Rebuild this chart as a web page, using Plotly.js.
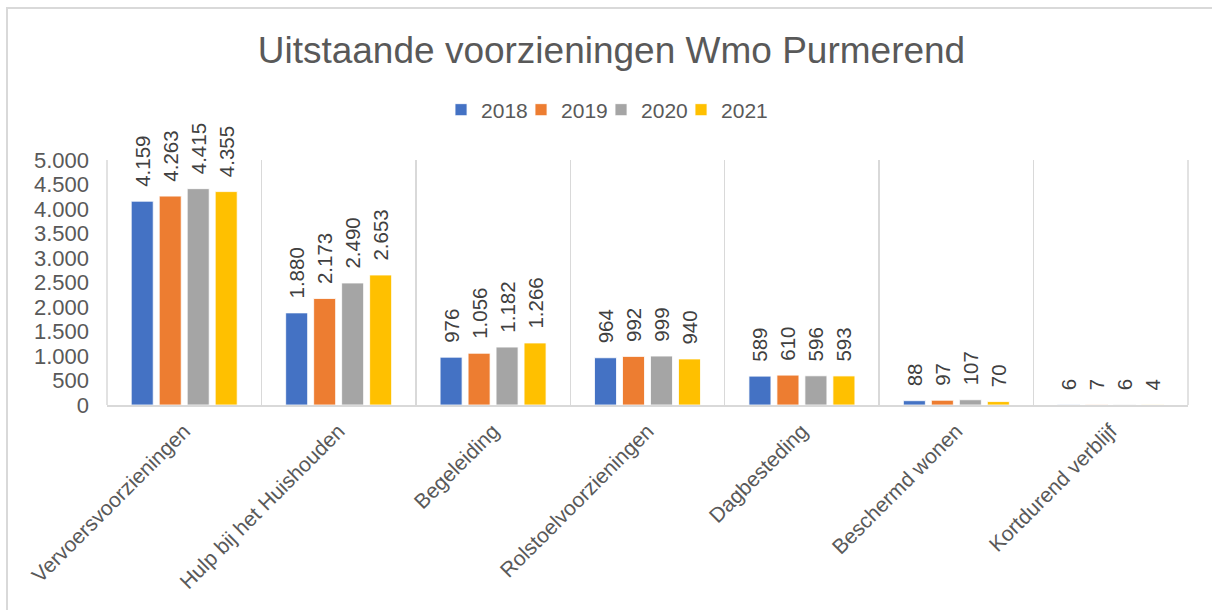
<!DOCTYPE html>
<html>
<head>
<meta charset="utf-8">
<script src="https://cdn.plot.ly/plotly-3.0.1.min.js"></script>
<style>
html,body{margin:0;padding:0;background:#fff;}
#chart{width:1212px;height:610px;position:absolute;left:0;top:0;}
#frame{position:absolute;left:6px;top:7px;width:1300px;height:700px;border-left:2px solid #D9D9D9;border-top:2px solid #D9D9D9;pointer-events:none;}
</style>
</head>
<body>
<div id="chart"></div>
<div id="frame"></div>
<script>
const categories = ["Vervoersvoorzieningen","Hulp bij het Huishouden","Begeleiding","Rolstoelvoorzieningen","Dagbesteding","Beschermd wonen","Kortdurend verblijf"];
const seriesNames = ["2018","2019","2020","2021"];
const v2018 = [4159,1880,976,964,589,88,6];
const v2019 = [4263,2173,1056,992,610,97,7];
const v2020 = [4415,2490,1182,999,596,107,6];
const v2021 = [4355,2653,1266,940,593,70,4];
const colors = ["#4472C4","#ED7D31","#A5A5A5","#FFC000"];
const yTickVals = [0,500,1000,1500,2000,2500,3000,3500,4000,4500,5000];

function fmt(n){return String(n).replace(/\B(?=(\d{3})+(?!\d))/g,".");}
const FONT = "Liberation Sans, Arial, sans-serif";
const TXT = "#595959";
const PAD = "\u00A0\u00A0";

const allVals = [v2018,v2019,v2020,v2021];
const traces = allVals.map((vals,i)=>({
  type:"bar",
  name:seriesNames[i],
  x:categories,
  y:vals,
  marker:{color:colors[i],line:{color:"#ffffff",width:0.8}},
  text:vals.map(v=>PAD+fmt(v)),
  textposition:"outside",
  textangle:-90,
  constraintext:"none",
  cliponaxis:false,
  textfont:{family:FONT,size:20.5,color:"#404040"},
  legendwidth:(i===allVals.length-1)?55:35,
  hoverinfo:"x+y"
}));

const layout = {
  width:1212,height:610,
  paper_bgcolor:"#ffffff",plot_bgcolor:"#ffffff",
  margin:{l:107,r:24,t:160,b:205,pad:0},
  separators:",.",
  title:{text:"Uitstaande voorzieningen Wmo Purmerend",font:{family:FONT,size:37,color:TXT},x:0.5045,xanchor:"center",y:0.918,yanchor:"middle"},
  showlegend:true,
  legend:{orientation:"h",x:0.309,xanchor:"left",y:1.204,yanchor:"middle",font:{family:FONT,size:21,color:TXT},itemwidth:30,entrywidthmode:"pixels",traceorder:"normal"},
  barmode:"group",
  bargap:0.275,
  bargroupgap:0.214,
  xaxis:{
    type:"category",
    tickson:"boundaries",
    showgrid:true,gridcolor:"#D9D9D9",gridwidth:1.5,
    showline:true,linecolor:"#D9D9D9",linewidth:1.5,mirror:false,
    ticks:"",tickangle:-45,
    ticklabelstandoff:4,
    tickfont:{family:FONT,size:21,color:TXT},
    automargin:false
  },
  yaxis:{
    range:[0,5000],
    tickvals:yTickVals,
    ticktext:yTickVals.map(fmt),
    showgrid:false,zeroline:false,showline:false,
    ticks:"",ticklen:0,
    ticklabelstandoff:17,
    tickfont:{family:FONT,size:22,color:TXT},
    automargin:false
  },
  shapes:[
    {type:"line",xref:"paper",yref:"paper",x0:1,x1:1,y0:0,y1:1,line:{color:"#D9D9D9",width:1.5}},
    {type:"line",xref:"paper",yref:"paper",x0:0,x1:0,y0:0,y1:1,line:{color:"#D9D9D9",width:1.5}}
  ]
};

Plotly.newPlot("chart",traces,layout,{displayModeBar:false,staticPlot:true});
</script>
</body>
</html>
